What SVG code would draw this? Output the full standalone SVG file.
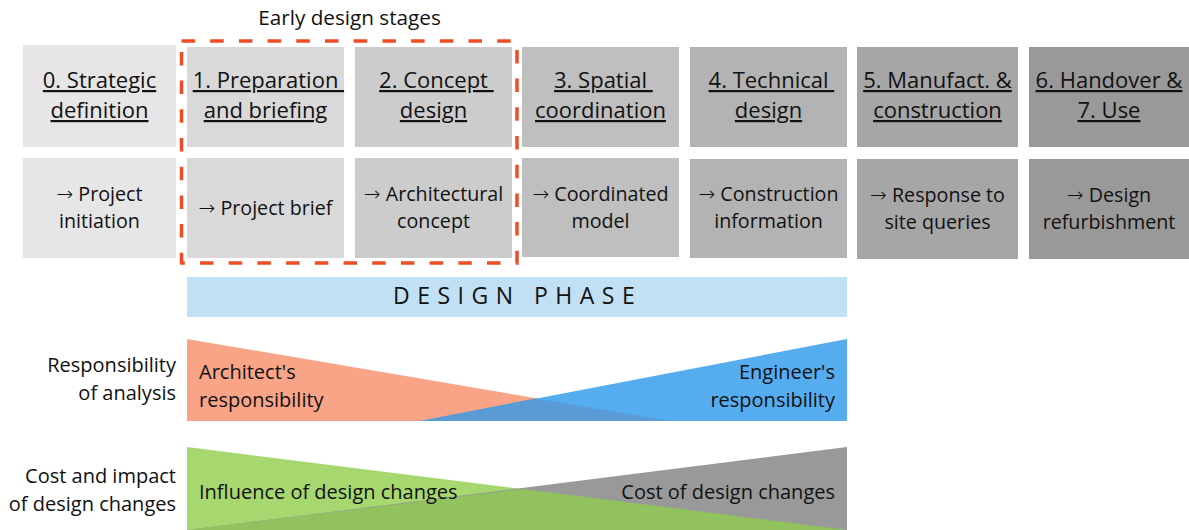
<svg xmlns="http://www.w3.org/2000/svg" width="1189" height="530" viewBox="0 0 1189 530">
<style>
text{font-family:"Open Sans","Noto Sans","Liberation Sans",sans-serif;fill:#111}
.h{font-size:22px;text-anchor:middle;text-decoration:underline}
.b{font-size:19.7px;text-anchor:middle}
.l{font-size:20px;text-anchor:end}
.s{font-size:20px}
.e{font-size:20px;text-anchor:end}
text tspan.ar{font-family:"DejaVu Sans","Liberation Sans",sans-serif;font-size:20px;font-weight:300}
</style>
<rect width="1189" height="530" fill="#fff"/>
<text x="349.5" y="25" style="font-size:20.7px;text-anchor:middle">Early design stages</text>
<g id="stage0">
<rect x="23" y="45" width="153" height="102" fill="#e6e6e6"/>
<rect x="23" y="158" width="153" height="100" fill="#e6e6e6"/>
<text class="h" x="99.5" y="88">0. Strategic</text>
<text class="h" x="99.5" y="118">definition</text>
<text class="b" x="99.5" y="201"><tspan class="ar">→</tspan> Project</text>
<text class="b" x="99.5" y="228">initiation</text>
</g>
<g id="stage1">
<rect x="187" y="47" width="157" height="100" fill="#d9d9d9"/>
<rect x="187" y="158" width="157" height="100" fill="#d9d9d9"/>
<text class="h" x="268.4" y="88" xml:space="preserve">1. Preparation </text>
<text class="h" x="265.5" y="118">and briefing</text>
<text class="b" x="265.5" y="215"><tspan class="ar">→</tspan> Project brief</text>
</g>
<g id="stage2">
<rect x="355" y="47" width="157" height="100" fill="#cccccc"/>
<rect x="355" y="158" width="157" height="100" fill="#cccccc"/>
<text class="h" x="436.4" y="88" xml:space="preserve">2. Concept </text>
<text class="h" x="433.5" y="118">design</text>
<text class="b" x="433.5" y="201"><tspan class="ar">→</tspan> Architectural</text>
<text class="b" x="433.5" y="228">concept</text>
</g>
<g id="stage3">
<rect x="522" y="47" width="157" height="100" fill="#bfbfbf"/>
<rect x="522" y="158" width="157" height="99" fill="#bfbfbf"/>
<text class="h" x="603.4" y="88" xml:space="preserve">3. Spatial </text>
<text class="h" x="600.5" y="118">coordination</text>
<text class="b" x="600.5" y="201"><tspan class="ar">→</tspan> Coordinated</text>
<text class="b" x="600.5" y="228">model</text>
</g>
<g id="stage4">
<rect x="690" y="47" width="157" height="100" fill="#b3b3b3"/>
<rect x="690" y="159" width="157" height="99" fill="#b3b3b3"/>
<text class="h" x="771.4" y="88" xml:space="preserve">4. Technical </text>
<text class="h" x="768.5" y="118">design</text>
<text class="b" x="768.5" y="201"><tspan class="ar">→</tspan> Construction</text>
<text class="b" x="768.5" y="228">information</text>
</g>
<g id="stage5">
<rect x="857" y="47" width="161" height="100" fill="#a6a6a6"/>
<rect x="857" y="159" width="161" height="100" fill="#a6a6a6"/>
<text class="h" x="937.5" y="88">5. Manufact. &amp;</text>
<text class="h" x="937.5" y="118">construction</text>
<text class="b" x="937.5" y="202"><tspan class="ar">→</tspan> Response to</text>
<text class="b" x="937.5" y="229">site queries</text>
</g>
<g id="stage6">
<rect x="1029" y="47" width="160" height="100" fill="#999999"/>
<rect x="1029" y="159" width="160" height="100" fill="#999999"/>
<text class="h" x="1109" y="88">6. Handover &amp;</text>
<text class="h" x="1109" y="118">7. Use</text>
<text class="b" x="1109" y="202"><tspan class="ar">→</tspan> Design</text>
<text class="b" x="1109" y="229">refurbishment</text>
</g>
<g id="early-design-frame">
<rect x="181.5" y="41" width="335.5" height="222" fill="none" stroke="#f04d27" stroke-width="3.5" stroke-dasharray="13.5 15.2"/>
</g>
<g id="design-phase">
<rect x="187" y="277" width="660" height="40" fill="#c2e0f3"/>
<text x="393" y="304" style="font-size:23px;letter-spacing:7.5px">DESIGN PHASE</text>
</g>
<g id="responsibility">
<text class="l" x="176" y="372">Responsibility</text>
<text class="l" x="176" y="400">of analysis</text>
<polygon points="187,339 187,421 670,421" fill="#f9a487"/>
<polygon points="847,339 847,421 420,421" fill="#55acef"/>
<polygon points="420,421 670,421 535.6,398.5" fill="#5a9bd6"/>
<text class="s" x="199" y="379">Architect's</text>
<text class="s" x="199" y="407">responsibility</text>
<text class="e" x="835" y="379">Engineer's</text>
<text class="e" x="835" y="407">responsibility</text>
</g>
<g id="cost-impact">
<text class="l" x="176" y="483">Cost and impact</text>
<text class="l" x="176" y="511">of design changes</text>
<polygon points="187,447 187,530 847,530" fill="#a7d76f"/>
<polygon points="847,447 847,530 187,530" fill="#999999"/>
<polygon points="187,530 847,530 522.6,489" fill="#91c25e"/>
<text class="s" x="199" y="499">Influence of design changes</text>
<text class="e" x="835" y="499">Cost of design changes</text>
</g>
<g id="connectors"/>
</svg>
